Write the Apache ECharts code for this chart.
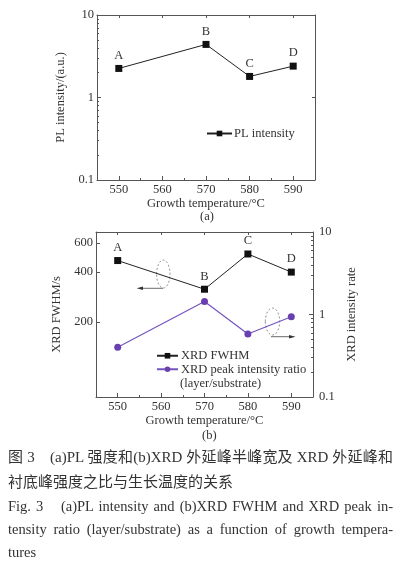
<!DOCTYPE html>
<html><head><meta charset="utf-8">
<script src="https://cdn.jsdelivr.net/npm/echarts@6/dist/echarts.min.js"></script>
<style>
html,body{margin:0;padding:0;background:#fff;}
#c{width:405px;height:569px;position:absolute;left:0;top:0;}
.cap{position:absolute;left:8px;width:385px;white-space:nowrap;color:#333;font-family:"Liberation Serif","Noto Sans CJK SC",serif;font-size:14.5px;line-height:20px;}
.j{text-align:justify;text-align-last:justify;}
.zh{font-size:15px;}
</style></head><body>
<div id="c"></div>
<div class="cap zh j" style="top:447px">图 3　(a)PL 强度和(b)XRD 外延峰半峰宽及 XRD 外延峰和</div>
<div class="cap zh" style="top:472px">衬底峰强度之比与生长温度的关系</div>
<div class="cap j" style="top:496px">Fig. 3　(a)PL intensity and (b)XRD FWHM and XRD peak in-</div>
<div class="cap j" style="top:519px">tensity ratio (layer/substrate) as a function of growth tempera-</div>
<div class="cap" style="top:542px">tures</div>
<script>
// ---- data ----
const temps = [550, 570, 580, 590];
const pointLabels = ['A', 'B', 'C', 'D'];
const plIntensity = [2.25, 4.4, 1.8, 2.4];
const xrdFwhm = [470, 315, 515, 400];
const xrdRatio = [0.40, 1.44, 0.58, 0.94];
const xTicks = [550, 560, 570, 580, 590];
const xMinorTicks = [555, 565, 575, 585];
const fwhmTicks = [200, 400, 600];
const logMinor = [0.2,0.3,0.4,0.5,0.6,0.7,0.8,0.9,2,3,4,5,6,7,8,9];

const FONT = '"Liberation Serif", "Times New Roman", serif';
const AX = '#555';
const TXT = '#333';
const PURPLE = '#6a3fb0';

function xAxesFor(grid) {
  return [
    {
      gridIndex: grid, type: 'value', min: 545, max: 595, position: 'bottom',
      axisLine: {show: true, onZero: false, lineStyle: {color: AX, width: 1}},
      axisTick: {show: true, inside: true, length: 4, customValues: xTicks, lineStyle: {color: AX}},
      axisLabel: {show: true, customValues: xTicks, margin: 3, color: TXT, fontFamily: FONT, fontSize: 12.5},
      splitLine: {show: false},
      name: 'Growth temperature/°C', nameLocation: 'middle', nameGap: 16,
      nameTextStyle: {color: TXT, fontFamily: FONT, fontSize: 12.5}
    },
    {
      gridIndex: grid, type: 'value', min: 545, max: 595, position: 'bottom',
      axisLine: {show: false, onZero: false},
      axisTick: {show: true, inside: true, length: 2, customValues: xMinorTicks, lineStyle: {color: AX}},
      axisLabel: {show: false}, splitLine: {show: false}
    },
    {
      gridIndex: grid, type: 'value', min: 545, max: 595, position: 'top',
      axisLine: {show: true, onZero: false, lineStyle: {color: AX, width: 1}},
      axisTick: {show: true, inside: true, length: 3, customValues: xTicks, lineStyle: {color: AX}},
      axisLabel: {show: false}, splitLine: {show: false}
    }
  ];
}

const labelStyle = {
  show: true, position: 'top', distance: 3,
  color: TXT, fontFamily: FONT, fontSize: 12.5,
  formatter: p => pointLabels[p.dataIndex]
};

const option = {
  backgroundColor: '#fff',
  animation: false,
  grid: [
    {left: 97, top: 15, width: 218, height: 165},
    {left: 96, top: 232, width: 217, height: 165}
  ],
  xAxis: [].concat(xAxesFor(0), xAxesFor(1)),
  yAxis: [
    { // 0 top left log
      gridIndex: 0, type: 'log', min: 0.1, max: 10, logBase: 10, position: 'left',
      axisLine: {show: true, onZero: false, lineStyle: {color: AX}},
      axisTick: {show: true, inside: true, length: 4, lineStyle: {color: AX}},
      axisLabel: {color: TXT, fontFamily: FONT, fontSize: 12.5, margin: 3},
      splitLine: {show: false},
      name: 'PL intensity/(a.u.)', nameLocation: 'middle', nameGap: 16,
      nameTextStyle: {color: TXT, fontFamily: FONT, fontSize: 12.5}
    },
    { // 1 top right mirror
      gridIndex: 0, type: 'log', min: 0.1, max: 10, logBase: 10, position: 'right',
      axisLine: {show: true, onZero: false, lineStyle: {color: AX}},
      axisTick: {show: true, inside: true, length: 3, lineStyle: {color: AX}},
      axisLabel: {show: false}, splitLine: {show: false}
    },
    { // 2 top left minor ticks (log space)
      gridIndex: 0, type: 'value', min: -1, max: 1, position: 'left',
      axisLine: {show: false, onZero: false},
      axisTick: {show: true, inside: true, length: 2, customValues: logMinor.map(v => Math.log10(v)), lineStyle: {color: AX}},
      axisLabel: {show: false}, splitLine: {show: false}
    },
    { // 3 bottom left FWHM (log space)
      gridIndex: 1, type: 'value', min: Math.log10(70), max: Math.log10(700), position: 'left',
      axisLine: {show: true, onZero: false, lineStyle: {color: AX}},
      axisTick: {show: true, inside: true, length: 4, customValues: fwhmTicks.map(v => Math.log10(v)), lineStyle: {color: AX}},
      axisLabel: {customValues: fwhmTicks.map(v => Math.log10(v)), formatter: v => String(Math.round(Math.pow(10, v))),
        color: TXT, fontFamily: FONT, fontSize: 12.5, margin: 3},
      splitLine: {show: false},
      name: 'XRD FWHM/s', nameLocation: 'middle', nameGap: 26,
      nameTextStyle: {color: TXT, fontFamily: FONT, fontSize: 12.5}
    },
    { // 4 bottom right ratio log
      gridIndex: 1, type: 'log', min: 0.1, max: 10, logBase: 10, position: 'right',
      axisLine: {show: true, onZero: false, lineStyle: {color: AX}},
      axisTick: {show: true, inside: true, length: 4, lineStyle: {color: AX}},
      axisLabel: {color: TXT, fontFamily: FONT, fontSize: 12.5, margin: 6},
      splitLine: {show: false},
      name: 'XRD intensity rate', nameLocation: 'middle', nameGap: 19,
      nameTextStyle: {color: TXT, fontFamily: FONT, fontSize: 12.5}
    },
    { // 5 bottom right minor ticks
      gridIndex: 1, type: 'value', min: -1, max: 1, position: 'right',
      axisLine: {show: false, onZero: false},
      axisTick: {show: true, inside: true, length: 2, customValues: logMinor.map(v => Math.log10(v)), lineStyle: {color: AX}},
      axisLabel: {show: false}, splitLine: {show: false}
    }
  ],
  legend: [
    {
      data: ['PL intensity'], left: 206, top: 127, itemWidth: 25, itemHeight: 7, itemGap: 0,
      textStyle: {color: TXT, fontFamily: FONT, fontSize: 12.5, padding: [0,0,0,-3]},
      padding: 0
    },
    {
      data: ['XRD FWHM', 'XRD peak intensity ratio'], orient: 'vertical', left: 156, top: 349,
      itemWidth: 21, itemHeight: 7, itemGap: 0,
      textStyle: {color: TXT, fontFamily: FONT, fontSize: 12.5, lineHeight: 13.5, padding: [0,0,0,-2]},
      padding: 0
    }
  ],
  graphic: [
    {type: 'text', left: 200, top: 210, style: {text: '(a)', fill: TXT, font: '12.5px ' + FONT}},
    {type: 'text', left: 202, top: 429, style: {text: '(b)', fill: TXT, font: '12.5px ' + FONT}},
    {type: 'text', left: 180, top: 377, style: {text: '(layer/substrate)', fill: TXT, font: '12.5px ' + FONT}},
    {type: 'ellipse', shape: {cx: 163.3, cy: 274, rx: 6.7, ry: 14}, style: {fill: 'none', stroke: '#777', lineWidth: 0.8, lineDash: [2, 2]}},
    {type: 'line', shape: {x1: 163, y1: 288.3, x2: 140, y2: 288.3}, style: {stroke: '#444', lineWidth: 0.8}},
    {type: 'polygon', shape: {points: [[136.7, 288.3], [143, 286.5], [143, 290.1]]}, style: {fill: '#333'}},
    {type: 'ellipse', shape: {cx: 272.5, cy: 321.5, rx: 7.2, ry: 13.5}, style: {fill: 'none', stroke: '#777', lineWidth: 0.8, lineDash: [2, 2]}},
    {type: 'line', shape: {x1: 271, y1: 336.7, x2: 292, y2: 336.7}, style: {stroke: '#444', lineWidth: 0.8}},
    {type: 'polygon', shape: {points: [[295.5, 336.7], [289, 334.9], [289, 338.5]]}, style: {fill: '#333'}}
  ],
  series: [
    {
      name: 'PL intensity', type: 'line', xAxisIndex: 0, yAxisIndex: 0,
      data: temps.map((t, i) => [t, plIntensity[i]]),
      symbol: 'rect', symbolSize: 7,
      lineStyle: {color: '#222', width: 1},
      itemStyle: {color: '#111'},
      label: labelStyle
    },
    {
      name: 'XRD FWHM', type: 'line', xAxisIndex: 3, yAxisIndex: 3,
      data: temps.map((t, i) => [t, Math.log10(xrdFwhm[i])]),
      symbol: 'rect', symbolSize: 7,
      lineStyle: {color: '#222', width: 1},
      itemStyle: {color: '#111'},
      label: labelStyle
    },
    {
      name: 'XRD peak intensity ratio', type: 'line', xAxisIndex: 3, yAxisIndex: 4,
      data: temps.map((t, i) => [t, xrdRatio[i]]),
      symbol: 'circle', symbolSize: 7,
      lineStyle: {color: '#7455c0', width: 1.2},
      itemStyle: {color: PURPLE}
    }
  ]
};

const chart = echarts.init(document.getElementById('c'), null, {renderer: 'canvas'});
chart.setOption(option);
</script>
</body></html>
